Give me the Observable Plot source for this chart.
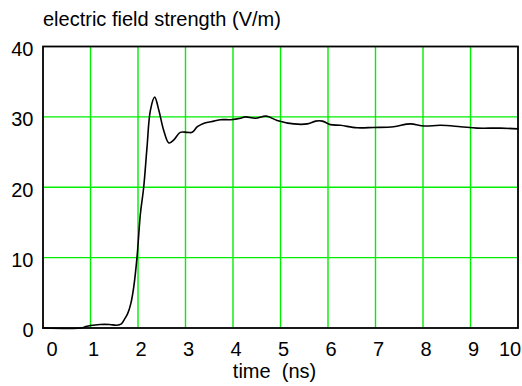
<!DOCTYPE html>
<html>
<head>
<meta charset="utf-8">
<script src="https://cdn.jsdelivr.net/npm/d3@7"></script>
<script src="https://cdn.jsdelivr.net/npm/@observablehq/plot@0.6"></script>
<style>
  html, body { margin: 0; padding: 0; background: #fff; }
  svg { display: block; }
  #title {
    box-sizing: border-box; height: 30px; padding: 8.6px 0 0 43px;
    font: 20px "Liberation Sans", Arial, sans-serif; line-height: 20px; color: #000;
    white-space: nowrap;
  }
</style>
</head>
<body>
<div id="title"></div>
<div id="chart"></div>
<script>
const time = [0, 0.8, 0.9, 1.0, 1.2, 1.4, 1.55, 1.65, 1.72, 1.78, 1.85, 1.91, 1.98, 2.05, 2.12, 2.19, 2.26, 2.35, 2.44, 2.54, 2.65, 2.75, 2.89, 3.04, 3.14, 3.25, 3.39, 3.6, 3.74, 3.95, 4.16, 4.26, 4.47, 4.7, 4.93, 5.28, 5.56, 5.74, 5.88, 6.05, 6.26, 6.61, 6.96, 7.38, 7.73, 8.02, 8.37, 8.79, 9.14, 9.63, 10];
const field = [0, 0, 0.2, 0.35, 0.5, 0.5, 0.4, 0.6, 1.3, 2.0, 3.5, 5.8, 10.1, 16.2, 20, 25.7, 30.9, 32.8, 30.9, 28.1, 26.3, 26.7, 27.8, 27.8, 27.8, 28.6, 29.1, 29.4, 29.6, 29.6, 29.8, 30.0, 29.8, 30.1, 29.5, 29.0, 29.0, 29.4, 29.4, 28.9, 28.8, 28.45, 28.5, 28.6, 29.0, 28.7, 28.8, 28.6, 28.4, 28.4, 28.3];
const xTicks = [0, 1, 2, 3, 4, 5, 6, 7, 8, 9, 10];
const yTicks = [0, 10, 20, 30, 40];
const title = "electric field strength (V/m)";
const xLabel = "time\u00a0\u00a0(ns)";

const data = time.map((t, i) => ({t, v: field[i]}));
const font = "'Liberation Sans', Arial, sans-serif";
const fs = 20;

document.getElementById("title").textContent = title;

const plot = Plot.plot({
  width: 522,
  height: 356,
  marginTop: 16,
  marginBottom: 58.5,
  marginLeft: 42.5,
  marginRight: 4.5,
  style: {fontFamily: font, fontSize: fs + "px", color: "#000", background: "#fff"},
  x: {domain: [0, 10]},
  y: {domain: [0, 40]},
  marks: [
    Plot.gridX(xTicks.slice(1, -1), {stroke: "#00ee00", strokeOpacity: 1, strokeWidth: 1.4}),
    Plot.gridY(yTicks.slice(1, -1), {stroke: "#00ee00", strokeOpacity: 1, strokeWidth: 1.4}),
    Plot.axisX(xTicks.slice(1, -1), {tickSize: 0, tickPadding: 14, dx: 3, label: null, fontSize: fs}),
    Plot.axisX([xTicks[0]], {tickSize: 0, tickPadding: 14, dx: 9, label: null, fontSize: fs}),
    Plot.axisX([xTicks[xTicks.length - 1]], {tickSize: 0, tickPadding: 14, dx: -8, label: null, fontSize: fs}),
    Plot.axisY(yTicks, {tickSize: 0, tickPadding: 9.5, dy: 3, label: null, fontSize: fs}),
    Plot.line(data, {x: "t", y: "v", stroke: "#000", strokeWidth: 1.6, curve: "catmull-rom"}),
    Plot.frame({stroke: "#000", strokeWidth: 1.8}),
    Plot.text([xLabel], {frameAnchor: "bottom", lineAnchor: "bottom", dx: -6, dy: 50, fontSize: fs, fill: "#000"})
  ]
});
document.getElementById("chart").append(plot);
</script>
</body>
</html>
